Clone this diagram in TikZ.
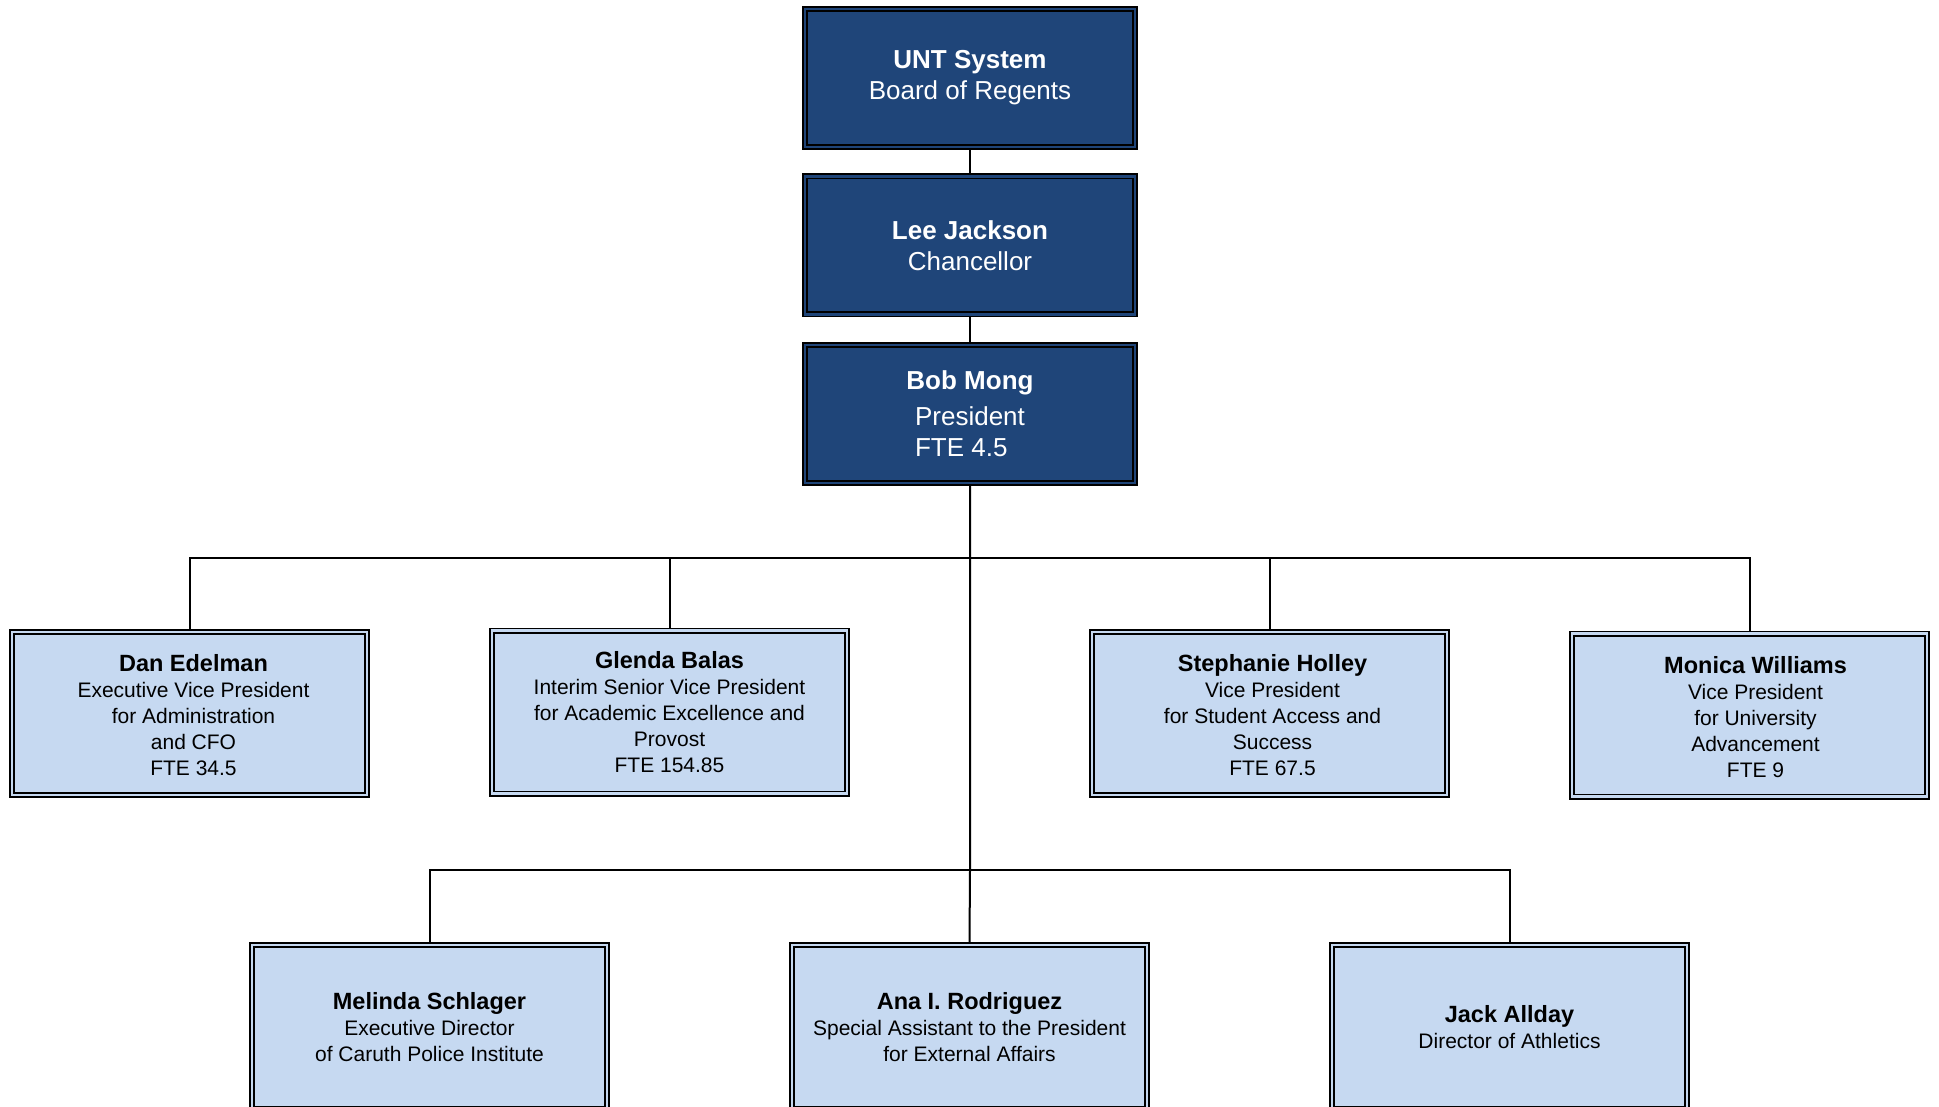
\documentclass[tikz,border=0pt]{standalone}
\usepackage{fontspec}
\setmainfont{Liberation Sans}
\definecolor{navyc}{HTML}{1F4579}
\definecolor{lightc}{HTML}{C6D9F1}
\tikzset{
  boxbase/.style={rectangle, draw=black, line width=1.6pt, double distance=2.8pt,
    inner sep=0pt, outer sep=3pt, align=center},
  topbox/.style={boxbase, fill=navyc, double=navyc, text=white,
    minimum width=330pt, minimum height=138pt, font=\fontsize{26}{31}\selectfont},
  midbox/.style={boxbase, fill=lightc, double=lightc, text=black,
    minimum width=355pt, minimum height=163pt, font=\fontsize{21}{26}\selectfont},
  lowbox/.style={midbox, minimum height=164pt},
  conn/.style={draw=black, line width=2pt}
}
\newcommand{\pname}[1]{{\fontsize{23.5}{26}\selectfont\bfseries #1}}
% shifts a centred text block right by half of #1 and down by about 5pt
\newcommand{\shiftblock}[2]{\hspace*{#1}\raisebox{0pt}[\dimexpr\height+10pt\relax][\depth]{\begin{tabular}{@{}c@{}}#2\end{tabular}}}
\begin{document}
\begin{tikzpicture}[x=1pt, y=-1pt]
\useasboundingbox (0,0) rectangle (1939,1107);
\clip (0,0) rectangle (1939,1107);
\fill[white] (0,0) rectangle (1939,1107);

% top chain
\node[topbox] (board) at (970,78) {\textbf{UNT System}\\Board of Regents};
\node[topbox] (chan) at (970,245.5) {\textbf{Lee Jackson}\\Chancellor};
\node[topbox] (pres) at (970,414) {\textbf{Bob Mong}\\[5pt]President\\\rlap{FTE 4.5}\hphantom{President}};

% second row
\node[midbox] (dan) at (189.5,713.5) {\shiftblock{8pt}{\pname{Dan Edelman}\\Executive Vice President\\for Administration\\and CFO\\FTE 34.5}};
\node[midbox] (glenda) at (669.5,712) {\pname{Glenda Balas}\\Interim Senior Vice President\\for Academic Excellence and\\Provost\\FTE 154.85};
\node[midbox] (steph) at (1269.5,713.5) {\shiftblock{6pt}{\pname{Stephanie Holley}\\Vice President\\for Student Access and\\Success\\FTE 67.5}};
\node[midbox] (monica) at (1749.5,715) {\shiftblock{12pt}{\pname{Monica Williams}\\Vice President\\for University\\Advancement\\FTE 9}};

% third row
\node[lowbox] (melinda) at (429.5,1027) {\pname{Melinda Schlager}\\Executive Director\\of Caruth Police Institute};
\node[lowbox] (ana) at (969.5,1027) {\pname{Ana I. Rodriguez}\\Special Assistant to the President\\for External Affairs};
\node[lowbox] (jack) at (1509.5,1027) {\pname{Jack Allday}\\Director of Athletics};

% connectors
\coordinate (bus1) at (970,558);
\coordinate (bus2) at (970,870);
\draw[conn] (board.south) -- (chan.north);
\draw[conn] (chan.south) -- (pres.north);
\draw[conn] (pres.south) -- (bus2) -- (ana.north);
\draw[conn] (bus1) -| (dan.north);
\draw[conn] (bus1) -| (glenda.north);
\draw[conn] (bus1) -| (steph.north);
\draw[conn] (bus1) -| (monica.north);
\draw[conn] (bus2) -| (melinda.north);
\draw[conn] (bus2) -| (jack.north);
\end{tikzpicture}
\end{document}
